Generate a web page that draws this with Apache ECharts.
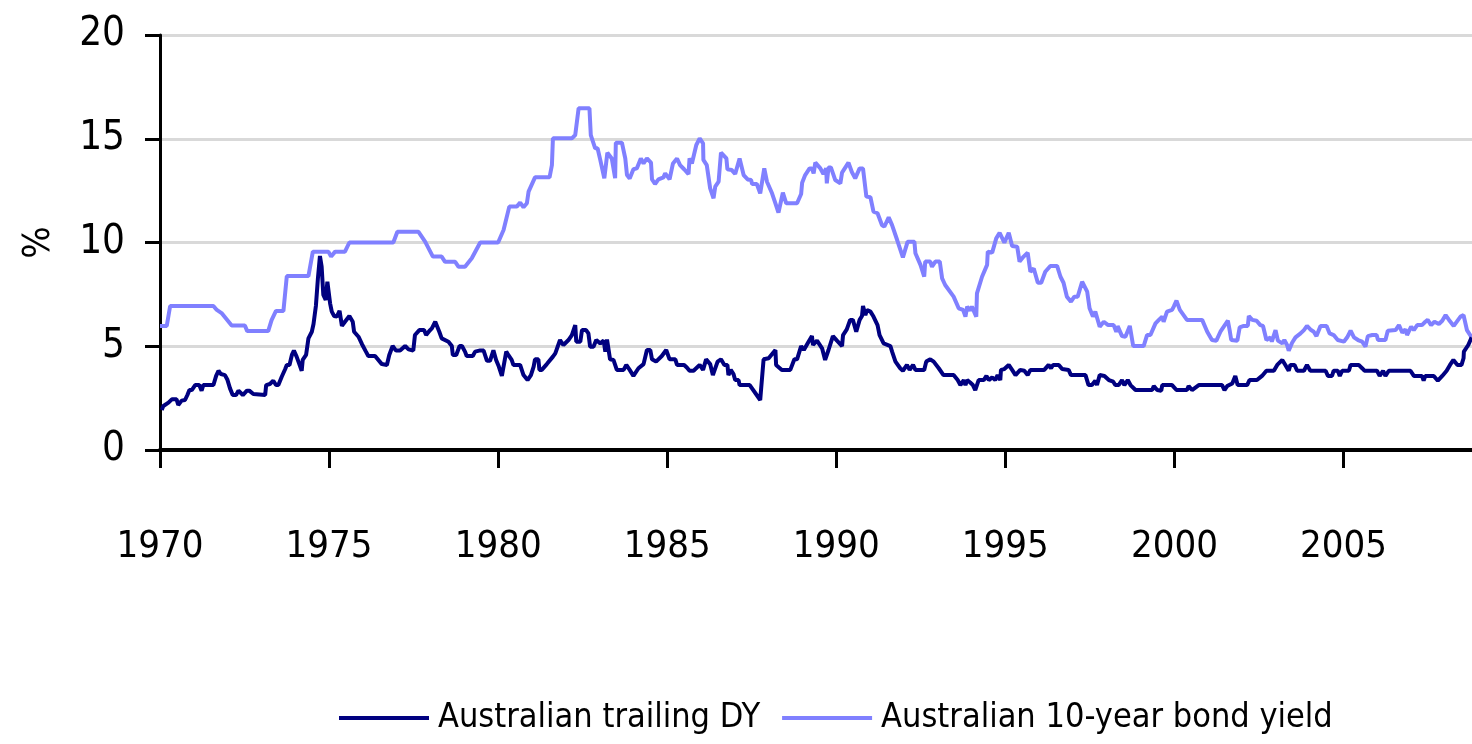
<!DOCTYPE html>
<html>
<head>
<meta charset="utf-8">
<script src="https://cdn.jsdelivr.net/npm/echarts@6/dist/echarts.min.js"></script>
<style>
html,body{margin:0;padding:0;background:#fff;}
#chart{width:1472px;height:744px;}
</style>
</head>
<body>
<div id="chart"></div>
<script>
const seriesNames = ['Australian trailing DY', 'Australian 10-year bond yield'];
const yTicks = [0, 5, 10, 15, 20];
const xTickYears = [1970, 1975, 1980, 1985, 1990, 1995, 2000, 2005];

// [decimal year, %]
const dyPoints = [
[1970.05,1.93],[1970.1,2.12],[1970.25,2.28],[1970.35,2.44],[1970.49,2.44],[1970.54,2.17],[1970.64,2.38],[1970.74,2.41],[1970.81,2.65],[1970.87,2.89],[1970.94,2.89],[1971.04,3.13],[1971.16,3.13],[1971.23,2.86],[1971.28,3.13],[1971.58,3.13],[1971.66,3.57],[1971.73,3.82],[1971.8,3.66],[1971.92,3.61],[1971.99,3.4],[1972.07,2.97],[1972.15,2.65],[1972.25,2.65],[1972.32,2.86],[1972.37,2.86],[1972.45,2.65],[1972.57,2.86],[1972.64,2.86],[1972.76,2.7],[1972.81,2.65],[1973.11,2.65],[1973.14,3.13],[1973.25,3.18],[1973.35,3.34],[1973.43,3.13],[1973.5,3.13],[1973.6,3.53],[1973.7,3.89],[1973.75,4.1],[1973.83,4.1],[1973.9,4.58],[1973.96,4.79],[1974.04,4.5],[1974.12,4.14],[1974.19,3.82],[1974.22,4.34],[1974.32,4.58],[1974.39,5.38],[1974.49,5.7],[1974.54,6.07],[1974.61,6.94],[1974.67,8.27],[1974.73,9.35],[1974.78,8.84],[1974.83,7.47],[1974.9,7.23],[1974.95,8.11],[1975.03,7.07],[1975.08,6.67],[1975.15,6.46],[1975.23,6.43],[1975.31,6.71],[1975.38,5.98],[1975.47,6.18],[1975.6,6.46],[1975.7,6.18],[1975.74,5.7],[1975.87,5.46],[1975.97,5.11],[1976.09,4.74],[1976.16,4.53],[1976.36,4.53],[1976.56,4.14],[1976.71,4.1],[1976.78,4.58],[1976.88,5.01],[1976.98,4.79],[1977.1,4.79],[1977.25,5.01],[1977.35,4.85],[1977.49,4.79],[1977.54,5.54],[1977.67,5.78],[1977.81,5.78],[1977.87,5.54],[1977.97,5.75],[1978.04,5.86],[1978.14,6.18],[1978.26,5.7],[1978.33,5.38],[1978.53,5.22],[1978.63,5.01],[1978.66,4.58],[1978.76,4.58],[1978.86,5.01],[1978.93,5.01],[1979.02,4.74],[1979.07,4.53],[1979.25,4.53],[1979.32,4.74],[1979.47,4.8],[1979.57,4.79],[1979.67,4.3],[1979.76,4.3],[1979.86,4.8],[1979.94,4.34],[1980.02,4.02],[1980.11,3.57],[1980.24,4.74],[1980.3,4.58],[1980.4,4.34],[1980.45,4.1],[1980.65,4.1],[1980.75,3.61],[1980.87,3.37],[1980.97,3.61],[1981.05,4.02],[1981.09,4.37],[1981.19,4.37],[1981.22,3.86],[1981.29,3.86],[1981.44,4.14],[1981.62,4.5],[1981.69,4.66],[1981.83,5.3],[1981.93,5.06],[1982.08,5.3],[1982.18,5.54],[1982.28,6.02],[1982.31,5.22],[1982.43,5.22],[1982.48,5.78],[1982.6,5.78],[1982.67,5.62],[1982.72,4.98],[1982.82,4.98],[1982.9,5.3],[1983.02,5.14],[1983.12,5.27],[1983.17,4.74],[1983.22,5.32],[1983.31,4.37],[1983.41,4.34],[1983.51,3.86],[1983.71,3.86],[1983.79,4.1],[1983.89,3.86],[1984.0,3.57],[1984.15,3.94],[1984.3,4.14],[1984.4,4.82],[1984.5,4.82],[1984.55,4.37],[1984.67,4.26],[1984.84,4.53],[1984.97,4.82],[1985.07,4.37],[1985.24,4.37],[1985.29,4.1],[1985.5,4.1],[1985.58,3.98],[1985.66,3.82],[1985.78,3.82],[1985.96,4.1],[1986.06,3.86],[1986.15,4.37],[1986.27,4.14],[1986.35,3.61],[1986.49,4.26],[1986.59,4.37],[1986.69,4.1],[1986.78,4.1],[1986.81,3.61],[1986.88,3.86],[1986.96,3.66],[1987.01,3.37],[1987.11,3.37],[1987.14,3.13],[1987.44,3.13],[1987.75,2.41],[1987.85,4.37],[1988.0,4.42],[1988.2,4.82],[1988.22,4.1],[1988.39,3.86],[1988.64,3.86],[1988.76,4.37],[1988.84,4.37],[1988.96,5.01],[1989.04,4.82],[1989.18,5.22],[1989.28,5.49],[1989.31,5.06],[1989.43,5.27],[1989.58,4.9],[1989.67,4.34],[1989.77,4.82],[1989.9,5.49],[1990.02,5.27],[1990.07,5.22],[1990.17,5.01],[1990.2,5.54],[1990.31,5.81],[1990.41,6.27],[1990.49,6.27],[1990.59,5.7],[1990.69,6.27],[1990.76,6.46],[1990.79,6.94],[1990.86,6.5],[1990.91,6.75],[1991.01,6.67],[1991.1,6.43],[1991.22,6.02],[1991.28,5.54],[1991.4,5.14],[1991.6,5.01],[1991.65,4.74],[1991.75,4.26],[1991.89,3.94],[1991.97,3.82],[1992.09,4.1],[1992.17,3.86],[1992.27,4.1],[1992.34,3.86],[1992.6,3.86],[1992.66,4.26],[1992.78,4.37],[1992.88,4.26],[1993.03,3.94],[1993.17,3.61],[1993.47,3.61],[1993.59,3.37],[1993.67,3.13],[1993.77,3.37],[1993.82,3.13],[1993.87,3.37],[1993.96,3.25],[1994.04,3.13],[1994.11,2.89],[1994.21,3.37],[1994.36,3.37],[1994.44,3.57],[1994.51,3.37],[1994.61,3.5],[1994.7,3.37],[1994.77,3.61],[1994.85,3.37],[1994.87,3.86],[1994.97,3.9],[1995.1,4.1],[1995.2,3.86],[1995.3,3.61],[1995.44,3.86],[1995.56,3.82],[1995.66,3.61],[1995.74,3.86],[1996.15,3.86],[1996.28,4.1],[1996.35,3.94],[1996.41,4.1],[1996.58,4.1],[1996.68,3.9],[1996.87,3.86],[1996.94,3.61],[1997.37,3.61],[1997.46,3.13],[1997.56,3.13],[1997.66,3.34],[1997.71,3.13],[1997.79,3.61],[1997.93,3.57],[1998.06,3.37],[1998.19,3.29],[1998.25,3.13],[1998.35,3.13],[1998.45,3.37],[1998.52,3.13],[1998.62,3.37],[1998.7,3.13],[1998.85,2.89],[1999.34,2.89],[1999.39,3.08],[1999.49,2.89],[1999.61,2.86],[1999.64,3.13],[1999.93,3.13],[2000.06,2.89],[2000.37,2.89],[2000.42,3.08],[2000.52,2.89],[2000.72,3.13],[2001.41,3.13],[2001.48,2.89],[2001.56,3.08],[2001.71,3.21],[2001.8,3.57],[2001.87,3.13],[2002.15,3.13],[2002.22,3.37],[2002.44,3.37],[2002.59,3.57],[2002.72,3.82],[2002.94,3.82],[2003.04,4.1],[2003.19,4.34],[2003.28,4.1],[2003.38,3.82],[2003.43,4.1],[2003.55,4.1],[2003.63,3.82],[2003.83,3.82],[2003.92,4.1],[2004.02,3.82],[2004.47,3.82],[2004.54,3.57],[2004.66,3.57],[2004.71,3.82],[2004.83,3.82],[2004.89,3.57],[2004.96,3.82],[2005.16,3.82],[2005.21,4.1],[2005.45,4.1],[2005.55,3.94],[2005.62,3.82],[2005.99,3.82],[2006.07,3.57],[2006.17,3.82],[2006.24,3.57],[2006.34,3.82],[2006.98,3.82],[2007.08,3.57],[2007.32,3.57],[2007.37,3.34],[2007.42,3.57],[2007.67,3.57],[2007.79,3.34],[2007.92,3.57],[2008.05,3.82],[2008.15,4.1],[2008.25,4.34],[2008.37,4.1],[2008.49,4.1],[2008.55,4.42],[2008.56,4.74],[2008.69,5.06],[2008.79,5.43]
];

const bondPoints = [
[1970.0,5.98],[1970.2,5.98],[1970.3,6.94],[1971.58,6.94],[1971.68,6.75],[1971.82,6.6],[1972.12,6.0],[1972.51,6.0],[1972.58,5.73],[1973.2,5.73],[1973.3,6.26],[1973.43,6.7],[1973.65,6.7],[1973.75,8.38],[1974.39,8.38],[1974.52,9.56],[1974.98,9.56],[1975.06,9.32],[1975.18,9.56],[1975.47,9.56],[1975.6,10.0],[1976.9,10.0],[1977.02,10.52],[1977.64,10.52],[1977.84,10.04],[1978.07,9.32],[1978.33,9.32],[1978.43,9.07],[1978.73,9.07],[1978.83,8.83],[1979.02,8.83],[1979.22,9.24],[1979.47,10.0],[1980.0,10.0],[1980.16,10.6],[1980.33,11.73],[1980.55,11.73],[1980.65,11.92],[1980.75,11.7],[1980.85,11.89],[1980.9,12.45],[1981.09,13.14],[1981.52,13.14],[1981.59,13.73],[1981.62,15.02],[1982.18,15.02],[1982.28,15.18],[1982.38,16.47],[1982.7,16.47],[1982.74,15.18],[1982.87,14.54],[1982.94,14.54],[1983.02,13.98],[1983.14,13.09],[1983.23,14.33],[1983.36,14.05],[1983.46,13.1],[1983.48,14.81],[1983.66,14.81],[1983.76,14.05],[1983.81,13.25],[1983.89,13.09],[1984.0,13.53],[1984.1,13.57],[1984.22,14.05],[1984.3,13.81],[1984.4,14.05],[1984.52,13.85],[1984.55,13.04],[1984.64,12.82],[1984.74,13.04],[1984.89,13.14],[1984.94,13.33],[1985.07,13.04],[1985.17,13.81],[1985.29,14.05],[1985.38,13.73],[1985.5,13.53],[1985.63,13.3],[1985.66,14.05],[1985.73,13.81],[1985.86,14.7],[1985.96,15.02],[1986.06,14.78],[1986.07,13.98],[1986.17,13.73],[1986.27,12.61],[1986.37,12.13],[1986.42,12.69],[1986.52,12.93],[1986.59,14.33],[1986.75,14.05],[1986.78,13.53],[1986.91,13.49],[1987.01,13.3],[1987.14,14.05],[1987.26,13.25],[1987.38,13.04],[1987.48,13.01],[1987.51,12.82],[1987.65,12.82],[1987.75,12.37],[1987.87,13.57],[1987.95,12.93],[1988.1,12.37],[1988.2,11.89],[1988.29,11.44],[1988.42,12.4],[1988.52,11.89],[1988.84,11.89],[1988.96,12.34],[1988.99,12.88],[1989.08,13.25],[1989.21,13.57],[1989.28,13.57],[1989.33,13.33],[1989.38,13.85],[1989.53,13.57],[1989.62,13.3],[1989.7,13.57],[1989.72,12.85],[1989.77,13.62],[1989.84,13.62],[1989.97,13.01],[1990.12,12.85],[1990.17,13.37],[1990.36,13.85],[1990.46,13.4],[1990.56,13.09],[1990.69,13.57],[1990.79,13.57],[1990.89,12.21],[1991.01,12.18],[1991.1,11.49],[1991.22,11.41],[1991.35,10.84],[1991.42,10.76],[1991.55,11.21],[1991.65,10.84],[1991.8,10.12],[1991.97,9.28],[1992.11,10.04],[1992.31,10.04],[1992.34,9.48],[1992.49,8.92],[1992.6,8.35],[1992.63,9.08],[1992.78,9.08],[1992.83,8.83],[1992.93,9.08],[1993.06,9.08],[1993.13,8.27],[1993.22,7.95],[1993.47,7.39],[1993.62,6.83],[1993.75,6.75],[1993.82,6.43],[1993.87,6.91],[1993.96,6.72],[1994.01,6.91],[1994.14,6.43],[1994.16,7.55],[1994.31,8.35],[1994.46,8.92],[1994.48,9.56],[1994.61,9.51],[1994.73,10.2],[1994.83,10.47],[1994.97,9.99],[1995.1,10.47],[1995.2,9.83],[1995.35,9.8],[1995.42,9.08],[1995.54,9.32],[1995.66,9.51],[1995.74,8.59],[1995.84,8.75],[1995.96,8.06],[1996.06,8.06],[1996.18,8.59],[1996.33,8.87],[1996.53,8.87],[1996.63,8.35],[1996.72,8.06],[1996.82,7.39],[1996.94,7.15],[1997.04,7.39],[1997.14,7.39],[1997.27,8.11],[1997.42,7.63],[1997.49,6.83],[1997.59,6.43],[1997.66,6.67],[1997.79,5.94],[1997.91,6.18],[1998.03,6.03],[1998.2,6.03],[1998.28,5.7],[1998.32,5.97],[1998.45,5.49],[1998.55,5.46],[1998.68,5.98],[1998.78,5.01],[1999.09,5.01],[1999.19,5.54],[1999.29,5.54],[1999.44,6.1],[1999.54,6.27],[1999.64,6.43],[1999.68,6.18],[1999.78,6.67],[1999.93,6.75],[1999.98,6.91],[2000.06,7.2],[2000.16,6.75],[2000.27,6.5],[2000.37,6.27],[2000.82,6.27],[2000.97,5.7],[2001.11,5.3],[2001.24,5.27],[2001.36,5.7],[2001.58,6.23],[2001.64,5.7],[2001.68,5.3],[2001.86,5.27],[2001.93,5.91],[2002.05,5.98],[2002.17,5.98],[2002.2,6.46],[2002.3,6.27],[2002.43,6.23],[2002.54,6.02],[2002.62,5.98],[2002.72,5.3],[2002.84,5.43],[2002.88,5.22],[2002.99,5.78],[2003.06,5.27],[2003.19,5.14],[2003.25,5.3],[2003.33,5.06],[2003.38,4.79],[2003.48,5.17],[2003.58,5.43],[2003.73,5.62],[2003.83,5.78],[2003.92,5.98],[2004.04,5.78],[2004.12,5.7],[2004.2,5.49],[2004.32,5.98],[2004.5,5.98],[2004.59,5.62],[2004.71,5.54],[2004.83,5.3],[2005.01,5.22],[2005.11,5.43],[2005.21,5.75],[2005.31,5.43],[2005.43,5.3],[2005.55,5.22],[2005.65,4.98],[2005.72,5.49],[2005.85,5.54],[2005.98,5.54],[2006.02,5.3],[2006.24,5.3],[2006.31,5.75],[2006.54,5.78],[2006.64,6.02],[2006.74,5.65],[2006.83,5.81],[2006.88,5.54],[2007.0,5.94],[2007.08,5.78],[2007.18,6.02],[2007.32,6.02],[2007.42,6.18],[2007.49,6.27],[2007.59,6.02],[2007.69,6.18],[2007.82,6.07],[2007.92,6.23],[2008.02,6.5],[2008.12,6.27],[2008.26,5.98],[2008.46,6.43],[2008.55,6.5],[2008.65,5.78],[2008.79,5.43]
];

const FONT = "'Liberation Sans Narrow','Arial Narrow','DejaVu Sans Condensed',sans-serif";
const chart = echarts.init(document.getElementById('chart'), null, {renderer: 'canvas'});
chart.setOption({
  animation: false,
  backgroundColor: '#ffffff',
  grid: {left: 160, right: 0, top: 35, bottom: 294, containLabel: false, outerBoundsMode: 'none'},
  legend: {
    data: seriesNames,
    bottom: 4,
    left: 334,
    icon: 'rect',
    itemWidth: 90,
    itemHeight: 4,
    itemGap: 22,
    textStyle: {fontFamily: FONT, fontSize: 34, color: '#000', padding: [0, 0, 0, 4]}
  },
  xAxis: {
    type: 'value',
    min: 1970,
    max: 2008.8,
    interval: 5,
    axisLine: {show: true, onZero: false, lineStyle: {color: '#000', width: 4}},
    axisTick: {show: true, length: 18, lineStyle: {color: '#000', width: 3}},
    axisLabel: {
      fontFamily: FONT, fontSize: 38, color: '#000', margin: 78, showMaxLabel: false,
      formatter: function (v) { return xTickYears.indexOf(v) >= 0 ? String(v) : ''; }
    },
    splitLine: {show: false}
  },
  yAxis: {
    type: 'value',
    min: yTicks[0],
    max: yTicks[yTicks.length - 1],
    interval: 5,
    name: '%',
    nameLocation: 'middle',
    nameRotate: 90,
    nameGap: 102,
    nameTextStyle: {fontFamily: FONT, fontSize: 38, color: '#000'},
    axisLine: {show: true, lineStyle: {color: '#000', width: 3}},
    axisTick: {show: true, length: 15, lineStyle: {color: '#000', width: 3}},
    axisLabel: {fontFamily: FONT, fontSize: 40, color: '#000', margin: 35},
    splitLine: {show: true, lineStyle: {color: '#d9d9d9', width: 3}}
  },
  series: [
    {
      name: seriesNames[0], type: 'line', data: dyPoints, showSymbol: false, z: 3,
      itemStyle: {color: '#000080'}, lineStyle: {color: '#000080', width: 4}
    },
    {
      name: seriesNames[1], type: 'line', data: bondPoints, showSymbol: false, z: 2,
      itemStyle: {color: '#8080ff'}, lineStyle: {color: '#8080ff', width: 4}
    }
  ]
});
</script>
</body>
</html>
